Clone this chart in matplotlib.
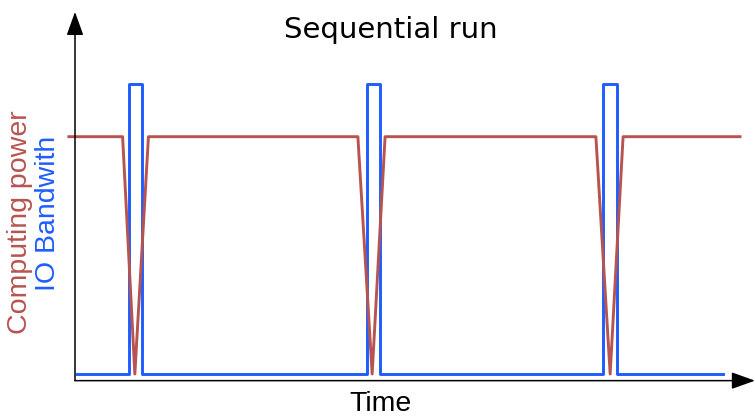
import matplotlib.pyplot as plt

# Time in arbitrary units (0 .. 100), level normalised so that the compute plateau = 1
cpu_t = [-0.9, 7.0, 8.8, 10.8, 41.6, 43.7, 45.6, 76.6, 78.7, 80.6, 97.8]
cpu_y = [1.0, 1.0, 0.0, 1.0, 1.0, 0.0, 1.0, 1.0, 0.0, 1.0, 1.0]

io_t = [0.3, 7.9, 7.9, 9.9, 9.9, 42.9, 42.9, 44.9, 44.9, 77.7, 77.7, 79.7, 79.7, 95.3]
io_y = [0.0, 0.0, 1.22, 1.22, 0.0, 0.0, 1.22, 1.22, 0.0, 0.0, 1.22, 1.22, 0.0, 0.0]

red = '#b85450'
blue = '#1f5cff'

fig = plt.figure(figsize=(7.55, 4.16), dpi=100)
ax = fig.add_axes([0, 0, 1, 1])
ax.set_xlim(-11.03, 100)
ax.set_ylim(-0.177, 1.576)
ax.axis('off')

ax.plot(io_t, io_y, color=blue, lw=2.1, solid_joinstyle='round', zorder=2)
ax.plot(cpu_t, cpu_y, color=red, lw=2.1, solid_joinstyle='round', zorder=3)

#Axes with arrows
arrow = dict(arrowstyle='-|>,head_length=1.45,head_width=0.52', color='black',
             lw=1.1, shrinkA=0, shrinkB=0, mutation_scale=10)
ax.annotate('', xy=(100, -0.028), xytext=(0, -0.028), arrowprops=arrow)
ax.annotate('', xy=(0, 1.526), xytext=(0, -0.028), arrowprops=arrow)

fig.text(391/755, 1 - 30/416, 'Sequential run', ha='center', va='center',
         fontsize=21, family='DejaVu Sans')
fig.text(380/755, 1 - 404/416, 'Time', ha='center', va='center',
         fontsize=20.5, family='Liberation Sans')
fig.text(20/755, 1 - 222/416, 'Computing power', rotation=90, ha='center', va='center',
         fontsize=20.5, color=red, family='Liberation Sans')
fig.text(48/755, 1 - 213/416, 'IO Bandwith', rotation=90, ha='center', va='center',
         fontsize=20.5, color=blue, family='Liberation Sans')

fig.savefig('out.png', dpi=100)
